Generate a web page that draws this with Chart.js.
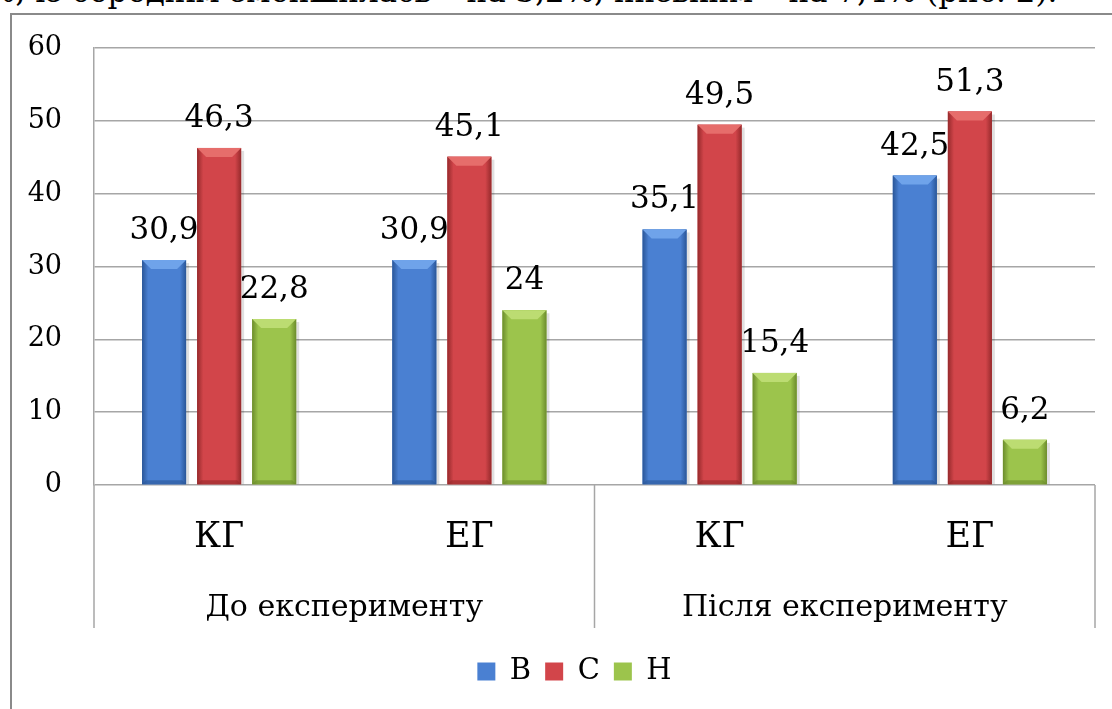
<!DOCTYPE html>
<html>
<head>
<meta charset="utf-8">
<script src="https://cdn.jsdelivr.net/npm/chart.js@4/dist/chart.umd.min.js"></script>
<style>
  body { margin: 0; background: #fff; overflow: hidden; }
  #topText { position: absolute; left: -14px; top: -27px; font: 31px "DejaVu Serif", serif; white-space: nowrap; color: #000; }
  #frame { position: absolute; left: 10px; top: 13px; width: 1120px; height: 720px; border: 2px solid #8a8a8a; box-sizing: border-box; }
  #wrap { position: absolute; left: 0; top: 0; width: 1112px; height: 709px; }
</style>
</head>
<body>
<div id="topText">%, із середнім зменшилась – на 3,2%, низьким – на 7,4% (рис. 2).</div>
<div id="frame"></div>
<div id="wrap"><canvas id="myChart" width="1112" height="709"></canvas></div>
<script>
var groups = ["КГ", "ЕГ", "КГ", "ЕГ"];
var periods = ["До експерименту", "Після експерименту"];
var seriesNames = ["В", "С", "Н"];
var valuesB = [30.9, 30.9, 35.1, 42.5];
var valuesC = [46.3, 45.1, 49.5, 51.3];
var valuesH = [22.8, 24, 15.4, 6.2];
var yTicks = [0, 10, 20, 30, 40, 50, 60];

var faces = ["#4a80d2", "#d2454a", "#9cc44c"];
var edges = ["#2a5698", "#962a2c", "#6c8c2c"];
var lights = ["#6fa3ea", "#e66d6b", "#bcdc72"];
var serif = "\"DejaVu Serif\", serif";

function fmt(v) {
    return String(v).replace(".", ",");
}

// bevel look + value labels on top of each bar
var barDecor = {
    id: "barDecor",
    afterDatasetsDraw: function (chart) {
        var ctx = chart.ctx;
        chart.data.datasets.forEach(function (ds, di) {
            var meta = chart.getDatasetMeta(di);
            meta.data.forEach(function (bar, i) {
                var p = bar.getProps(["x", "y", "base", "width"], true);
                var l = p.x - p.width / 2, r = p.x + p.width / 2, t = p.y, b = p.base;
                var bv = Math.min(9, (b - t) / 2);
                ctx.save();
                // shadow
                ctx.fillStyle = "rgba(0,0,0,0.12)";
                ctx.fillRect(r, t + 3, 3, b - t - 3);
                // side edges
                var g = ctx.createLinearGradient(l, 0, r, 0);
                g.addColorStop(0, edges[di]);
                g.addColorStop(0.14, faces[di]);
                g.addColorStop(0.86, faces[di]);
                g.addColorStop(1, edges[di]);
                ctx.fillStyle = g;
                ctx.fillRect(l, t, r - l, b - t);
                // top bevel
                ctx.fillStyle = lights[di];
                ctx.beginPath();
                ctx.moveTo(l, t);
                ctx.lineTo(r, t);
                ctx.lineTo(r - bv, t + bv);
                ctx.lineTo(l + bv, t + bv);
                ctx.closePath();
                ctx.fill();
                // bottom bevel
                ctx.fillStyle = edges[di];
                ctx.globalAlpha = 0.6;
                ctx.beginPath();
                ctx.moveTo(l, b);
                ctx.lineTo(r, b);
                ctx.lineTo(r - 4, b - 4);
                ctx.lineTo(l + 4, b - 4);
                ctx.closePath();
                ctx.fill();
                ctx.globalAlpha = 1;
                // label
                ctx.fillStyle = "#000";
                ctx.font = "31px " + serif;
                ctx.textAlign = "center";
                ctx.textBaseline = "alphabetic";
                ctx.fillText(fmt(ds.data[i]), p.x, t - 21);
                ctx.restore();
            });
        });
    }
};

// second level of category axis: dividers and period labels
var groupAxis = {
    id: "groupAxis",
    afterDraw: function (chart) {
        var ctx = chart.ctx;
        var xs = chart.scales.x;
        var area = chart.chartArea;
        var bottom = area.bottom + 143;
        var mid = (xs.getPixelForValue(1) + xs.getPixelForValue(2)) / 2;
        ctx.save();
        ctx.strokeStyle = "#a6a6a6";
        ctx.lineWidth = 1.5;
        [area.left, mid, area.right].forEach(function (x) {
            ctx.beginPath();
            ctx.moveTo(x, area.bottom);
            ctx.lineTo(x, bottom);
            ctx.stroke();
        });
        ctx.fillStyle = "#000";
        ctx.font = "30px " + serif;
        ctx.textAlign = "center";
        ctx.textBaseline = "middle";
        periods.forEach(function (name, k) {
            var cx = (xs.getPixelForValue(2 * k) + xs.getPixelForValue(2 * k + 1)) / 2;
            ctx.fillText(name, cx, area.bottom + 123);
        });
        ctx.restore();
    }
};

// legend sits a little right of centre in the original
var legendShift = {
    id: "legendShift",
    afterUpdate: function (chart) {
        if (chart.legend) {
            chart.legend.left += 22;
            chart.legend.right += 22;
        }
    }
};

new Chart("myChart", {
    type: "bar",
    data: {
        labels: groups,
        datasets: [
            { label: seriesNames[0], data: valuesB, backgroundColor: faces[0] },
            { label: seriesNames[1], data: valuesC, backgroundColor: faces[1] },
            { label: seriesNames[2], data: valuesH, backgroundColor: faces[2] }
        ]
    },
    options: {
        responsive: false,
        animation: false,
        devicePixelRatio: 1,
        categoryPercentage: 0.66,
        barPercentage: 0.8,
        layout: { padding: { left: 10, top: 46, right: 17, bottom: 13 } },
        scales: {
            x: {
                grid: { display: false },
                border: { display: false },
                ticks: { color: "#000", font: { family: serif, size: 35 }, padding: 24 },
                afterFit: function (s) { s.height = 158; }
            },
            y: {
                min: 0,
                max: 60,
                afterBuildTicks: function (s) { s.ticks = yTicks.map(function (v) { return { value: v }; }); },
                grid: { color: "#a6a6a6", lineWidth: 1.5, drawTicks: false },
                border: { color: "#a6a6a6", width: 1.5 },
                ticks: { color: "#000", font: { family: serif, size: 27 }, padding: 32 },
                afterFit: function (s) { s.width = 84; }
            }
        },
        plugins: {
            title: { display: false },
            tooltip: { enabled: false },
            legend: {
                display: true,
                position: "bottom",
                labels: {
                    color: "#000",
                    font: { family: serif, size: 29 },
                    boxWidth: 18,
                    boxHeight: 18,
                    padding: 14
                }
            }
        }
    },
    plugins: [barDecor, groupAxis, legendShift]
});
</script>
</body>
</html>
